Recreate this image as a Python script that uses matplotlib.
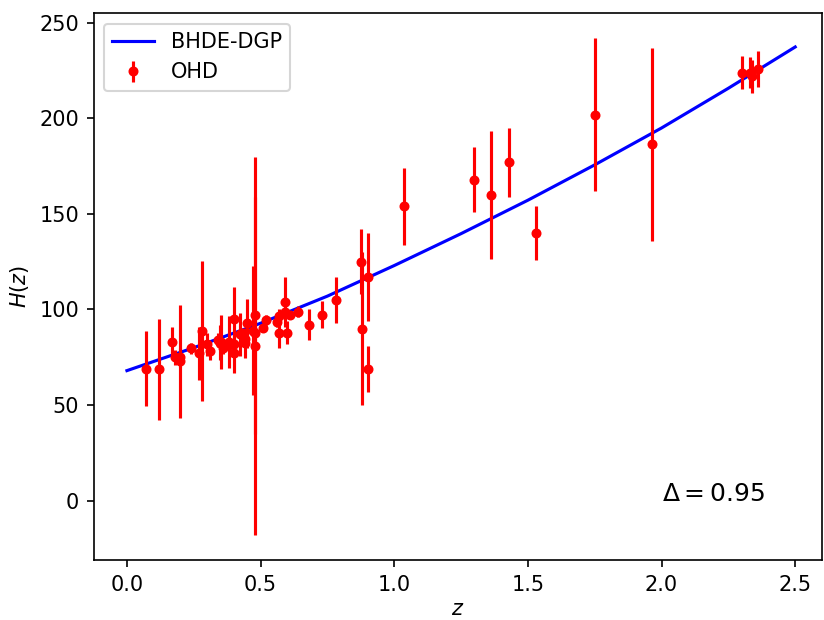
import matplotlib.pyplot as plt
import numpy as np

# OHD data: redshift, H(z), sigma
z_ohd = [0.07, 0.12, 0.17, 0.179, 0.199, 0.2, 0.27, 0.28, 0.352, 0.3802,
         0.4, 0.4004, 0.4247, 0.4497, 0.47, 0.4783, 0.48, 0.593, 0.68, 0.781,
         0.875, 0.88, 0.9, 0.9, 1.037, 1.3, 1.363, 1.43, 1.53, 1.75, 1.965,
         0.24, 0.3, 0.31, 0.34, 0.35, 0.36, 0.38, 0.40, 0.43, 0.44,
         0.44, 0.48, 0.51, 0.52, 0.56, 0.57, 0.57, 0.59, 0.60, 0.61,
         0.64, 0.73, 2.30, 2.33, 2.34, 2.36]
H_ohd = [69, 68.6, 83, 75, 75, 72.9, 77, 88.8, 83, 83,
         95, 77, 87.1, 92.8, 89, 80.9, 97, 104, 92, 105,
         125, 90, 117, 69, 154, 168, 160, 177, 140, 202, 186.5,
         79.69, 81.7, 78.18, 83.8, 82.7, 79.94, 81.5, 82.04, 86.45, 82.6,
         84.81, 87.79, 90.4, 94.35, 93.34, 87.6, 96.8, 98.48, 87.9, 97.3,
         98.82, 97.3, 224, 224, 222, 226]
sig_ohd = [19.6, 26.2, 8, 4, 5, 29.6, 14, 36.6, 14, 13.5,
           17, 10.2, 11.2, 12.9, 34, 99, 62, 13, 8, 12,
           17, 40, 23, 12, 20, 17, 33.6, 18, 14, 40, 50.4,
           2.99, 6.22, 4.74, 3.66, 9.1, 3.38, 1.9, 2.03, 3.97, 7.8,
           1.83, 2.03, 1.9, 2.64, 2.3, 7.8, 3.4, 3.18, 6.1, 2.1,
           2.99, 7.0, 8.6, 8, 8.5, 9.3]

# BHDE-DGP best-fit curve
z_model = [0.0, 0.25, 0.5, 0.75, 1.0, 1.25, 1.5, 1.75, 2.0, 2.25, 2.5]
H_model = [68.0, 80.0, 92.8, 107.0, 123.0, 139.7, 157.2, 175.7, 195.0, 215.8, 237.4]

fig = plt.figure(figsize=(824 / 150, 620 / 150), dpi=150)
ax = fig.add_axes([0.1135, 0.0968, 0.884, 0.8817])

ax.plot(z_model, H_model, color="blue", lw=1.5, label="BHDE-DGP")
ax.errorbar(z_ohd, H_ohd, yerr=sig_ohd, fmt="o", color="red", ms=3.8,
            elinewidth=1.5, label="OHD")

ax.text(2.0, 0, r"$\Delta = 0.95$", fontsize=12)

ax.set_xlim(-0.125, 2.6)
ax.set_xlabel("$z$", labelpad=2)
ax.set_ylabel("$H(z)$")
ax.legend(loc="upper left")

fig.savefig("out.png", dpi=150)
